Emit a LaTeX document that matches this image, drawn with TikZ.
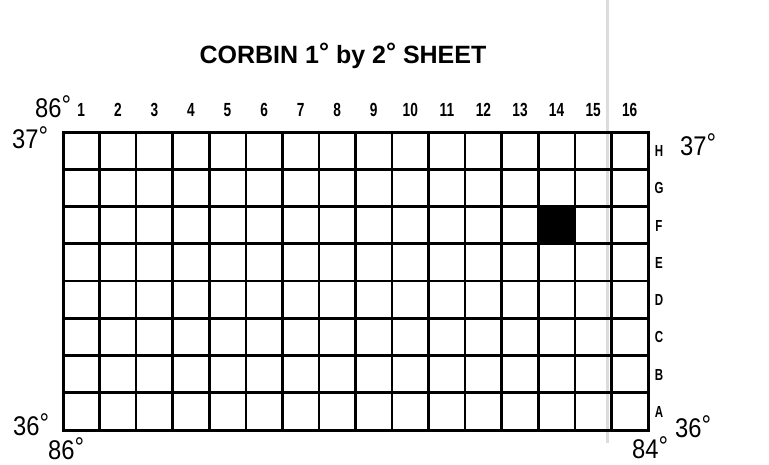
\documentclass[tikz,border=0pt]{standalone}
\usepackage{fontspec}
\setmainfont{Liberation Sans}
\newfontfamily\lettering[FakeStretch=0.88]{Liberation Sans}
\newfontfamily\narrowlettering[FakeStretch=0.72]{Liberation Sans}
\definecolor{scan}{HTML}{DCDCDC}
\tikzset{
  ttl/.style={font=\bfseries\fontsize{25}{26}\selectfont, inner sep=0pt, anchor=base},
  col/.style={font=\narrowlettering\bfseries\fontsize{19}{20}\selectfont, inner sep=0pt, anchor=base},
  row/.style={font=\narrowlettering\bfseries\fontsize{16}{17}\selectfont, inner sep=0pt, anchor=base},
  deg/.style={font=\lettering\fontsize{27}{28}\selectfont, inner sep=0pt, anchor=base west},
  g/.style={draw=black, line width=2.6pt, line cap=rect},
}
\newcommand{\cw}{36.5625}  % cell width
\newcommand{\ch}{37.25}    % cell height
\newcommand{\degr}{\raisebox{0.1em}{°}}
\begin{document}
\begin{tikzpicture}[x=1pt, y=-1pt]
\useasboundingbox (0,0) rectangle (769,464);

% scanner streak
\draw[scan, line width=3pt] (607,0) -- (607,443);

% sheet grid
\coordinate (nw) at (63,132);
\coordinate (se) at (648,430);
\fill (63+13*\cw,132+2*\ch) rectangle (63+14*\cw,132+3*\ch);
\foreach \i in {1,...,15}
  \draw[g] (63+\i*\cw,132) -- (63+\i*\cw,430);
\foreach \j in {1,...,7}
  \draw[g] (63,132+\j*\ch) -- (648,132+\j*\ch);
\draw[g, line width=3pt] (nw) rectangle (se);

% column numbers and row letters
\foreach \i in {1,...,16}
  \node[col] (c\i) at (63+\i*\cw-0.5*\cw,116) {\i};
\foreach \l [count=\j] in {H,G,F,E,D,C,B,A}
  \node[row] (r\l) at (659,132+\j*\ch-0.5*\ch+6) {\l};

% title
\node[ttl] (title) at (343,63) {CORBIN 1\degr{} by 2\degr{} SHEET};

% corner coordinates
\node[deg] (lon-nw) at (35,117) {86\degr};
\node[deg] (lat-nw) at (12,148) {37\degr};
\node[deg] (lat-ne) at (680,155) {37\degr};
\node[deg] (lat-sw) at (13,435) {36\degr};
\node[deg] (lon-sw) at (48,459) {86\degr};
\node[deg] (lat-se) at (675,437) {36\degr};
\node[deg] (lon-se) at (632,458) {84\degr};
\end{tikzpicture}
\end{document}
